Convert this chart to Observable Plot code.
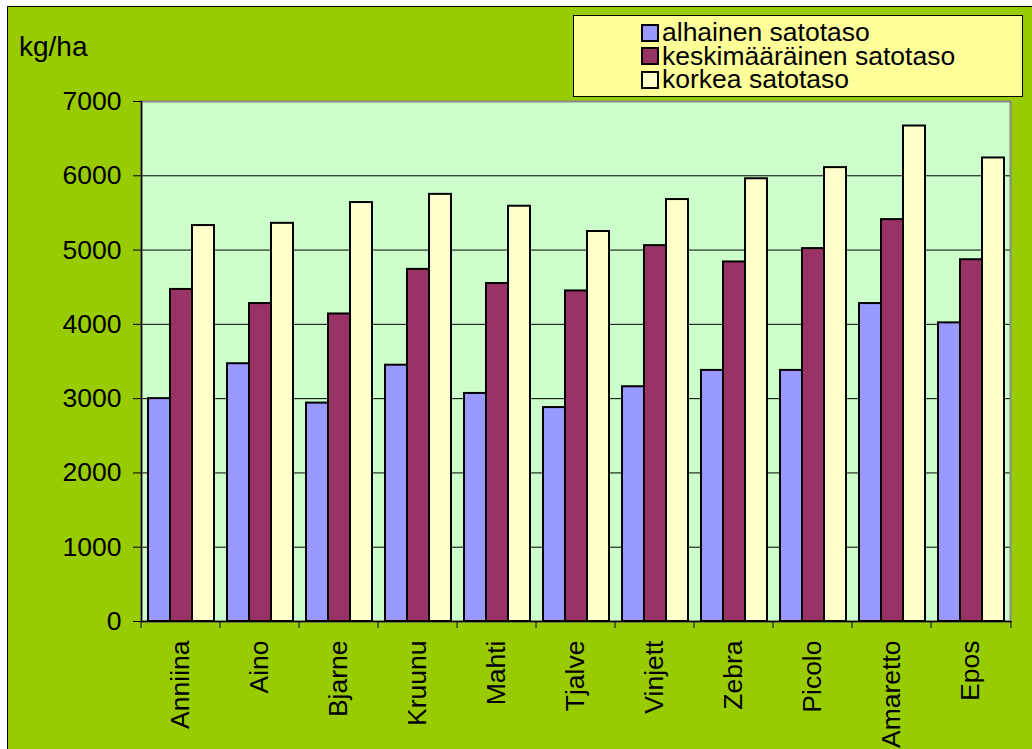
<!DOCTYPE html>
<html>
<head>
<meta charset="utf-8">
<script src="https://cdn.jsdelivr.net/npm/d3@7"></script>
<script src="https://cdn.jsdelivr.net/npm/@observablehq/plot@0.6"></script>
<style>
  html, body { margin: 0; padding: 0; background: #fff; }
  body { width: 1032px; height: 749px; position: relative; overflow: hidden; font-family: Arial, "Liberation Sans", sans-serif; }
  #page { position: absolute; left: 7px; top: 6px; width: 1025px; height: 743px; background: #99CC00; border-left: 1px solid #000; border-top: 1px solid #000; }
  #chart { position: absolute; left: 0; top: 0; }
  #unit { position: absolute; left: 19px; top: 33px; font-size: 28px; line-height: 28px; color: #000; }
  #legend { position: absolute; left: 573px; top: 15px; width: 450px; height: 82px; box-sizing: border-box; background: #FFFF99; border: 1.5px solid #000; padding-top: 5px; padding-left: 67px; }
  .row { display: flex; align-items: center; height: 23.5px; font-size: 25px; line-height: 23.5px; color: #000; white-space: nowrap; }
  .sw { width: 18px; height: 18px; box-sizing: border-box; border: 2px solid #000; margin-right: 3px; flex: none; }
  .lbl { display: inline-block; transform: scaleX(1.06); transform-origin: left center; }
</style>
</head>
<body>
<div id="page"></div>
<div id="chart"></div>
<div id="unit">kg/ha</div>
<div id="legend"></div>
<script>
const categories = ["Anniina","Aino","Bjarne","Kruunu","Mahti","Tjalve","Vinjett","Zebra","Picolo","Amaretto","Epos"];
const series = ["alhainen satotaso","keskimääräinen satotaso","korkea satotaso"];
const low  = [3000,3470,2940,3450,3070,2880,3160,3380,3380,4280,4020];
const mid  = [4470,4280,4140,4740,4550,4450,5060,4840,5020,5410,4870];
const high = [5330,5360,5640,5750,5590,5250,5680,5960,6110,6670,6240];
const yTicks = [0,1000,2000,3000,4000,5000,6000,7000];
const colors = ["#9999FF","#993366","#FFFFCC"];

const values = [low, mid, high];
const data = categories.flatMap((c, i) => series.map((s, j) => ({category: c, series: s, value: values[j][i]})));

const W = 1032, H = 749, ML = 136, MR = 17, MT = 101, MB = 128;
const step = (W - ML - MR) / categories.length;

const chart = Plot.plot({
  width: W, height: H,
  marginLeft: ML, marginRight: MR, marginTop: MT, marginBottom: MB,
  style: {background: "transparent", fontFamily: "Arial, 'Liberation Sans', sans-serif", fontSize: "26px", color: "#000"},
  fx: {domain: categories, padding: 0, label: null, axis: null},
  x: {domain: series, paddingInner: 0, paddingOuter: 0.24, axis: null},
  y: {domain: [0, 7000], axis: null},
  color: {domain: series, range: colors},
  marks: [
    Plot.frame({facet: "super", fill: "#CCFFCC"}),
    Plot.ruleY(yTicks.filter(d => d > 0 && d < 7000), {stroke: "#000", strokeWidth: 1}),
    Plot.frame({facet: "super", stroke: "#888", strokeWidth: 2}),
    Plot.barY(data, {fx: "category", x: "series", y: "value", fill: "series", stroke: "#000", strokeWidth: 2}),
    Plot.frame({facet: "super", anchor: "left", stroke: "#000", strokeWidth: 1.5}),
    Plot.frame({facet: "super", anchor: "bottom", stroke: "#000", strokeWidth: 1.5}),
    Plot.axisY({ticks: yTicks, tickSize: 8, tickPadding: 12, label: null, fontSize: 26.5, tickFormat: d => String(d)}),
    Plot.axisFx({anchor: "bottom", tickSize: 0, tickPadding: 19, tickRotate: -90, label: null, fontSize: 26.5}),
    Plot.axisFx({anchor: "bottom", tickSize: 7, tickFormat: () => "", label: null, dx: -step / 2}),
    Plot.axisFx({anchor: "bottom", ticks: [categories[categories.length - 1]], tickSize: 7, tickFormat: () => "", label: null, dx: step / 2})
  ]
});
document.getElementById("chart").appendChild(chart);

const legend = document.getElementById("legend");
series.forEach((s, j) => {
  const row = document.createElement("div");
  row.className = "row";
  const sw = document.createElement("span");
  sw.className = "sw";
  sw.style.background = colors[j];
  const t = document.createElement("span");
  t.className = "lbl";
  t.textContent = s;
  row.appendChild(sw);
  row.appendChild(t);
  legend.appendChild(row);
});
</script>
</body>
</html>
